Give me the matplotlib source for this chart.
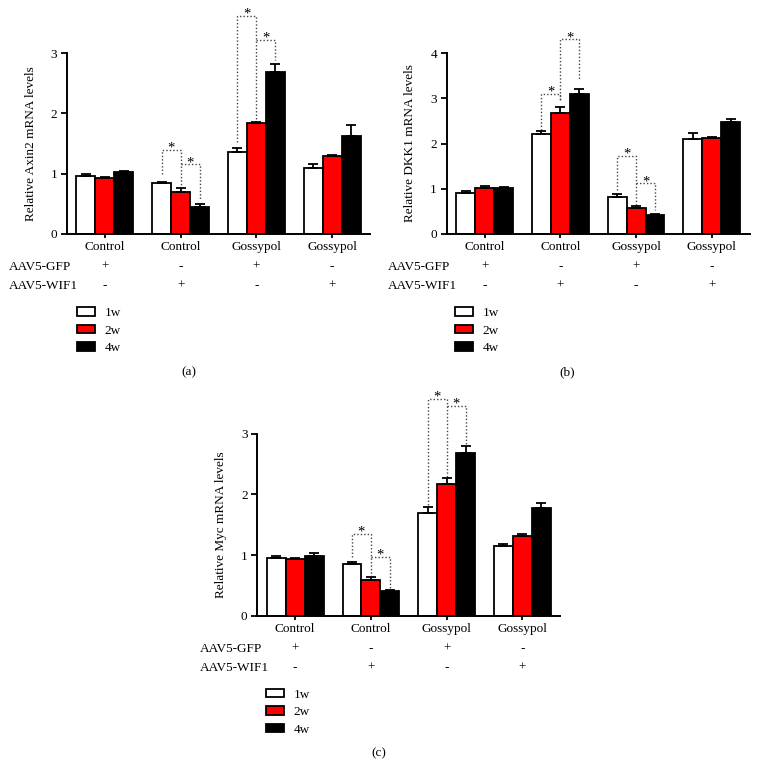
import numpy as np
import matplotlib.pyplot as plt
from matplotlib.transforms import blended_transform_factory

plt.rcParams['font.family'] = 'Liberation Serif'
plt.rcParams['font.size'] = 9.5

# group labels and treatment table
groups = ["Control", "Control", "Gossypol", "Gossypol"]
gfp = ["+", "-", "+", "-"]
wif1 = ["-", "+", "-", "+"]
weeks = ["1w", "2w", "4w"]
colors = ["white", "#ff0000", "black"]

# Axin2 (a)
axin2_mean = [[0.96, 0.845, 1.365, 1.10],
              [0.93, 0.69, 1.84, 1.29],
              [1.03, 0.45, 2.68, 1.62]]
axin2_err = [[0.04, 0.01, 0.06, 0.066],
             [0.02, 0.065, 0.015, 0.02],
             [0.02, 0.04, 0.14, 0.19]]
# significance brackets: (group, bar from, bar to, left foot, top, right foot)
axin2_sig = [(1, 0, 1, 1.00, 1.40, 0.76),
             (1, 1, 2, 1.155, 1.155, 0.56),
             (2, 0, 1, 1.53, 3.62, 1.90),
             (2, 1, 2, 3.215, 3.215, 2.88)]

# DKK1 (b)
dkk1_mean = [[0.91, 2.21, 0.81, 2.11],
             [1.01, 2.67, 0.58, 2.12],
             [1.02, 3.09, 0.41, 2.48]]
dkk1_err = [[0.05, 0.07, 0.07, 0.13],
            [0.04, 0.14, 0.04, 0.02],
            [0.02, 0.11, 0.03, 0.07]]
dkk1_sig = [(1, 0, 1, 2.30, 3.09, 2.96),
            (1, 1, 2, 2.96, 4.30, 3.40),
            (2, 0, 1, 0.97, 1.73, 0.64),
            (2, 1, 2, 1.12, 1.12, 0.53)]

# Myc (c)
myc_mean = [[0.945, 0.85, 1.70, 1.15],
            [0.93, 0.59, 2.17, 1.31],
            [0.98, 0.40, 2.68, 1.77]]
myc_err = [[0.045, 0.03, 0.10, 0.04],
           [0.015, 0.04, 0.10, 0.03],
           [0.05, 0.02, 0.12, 0.09]]
myc_sig = [(1, 0, 1, 0.97, 1.35, 0.65),
           (1, 1, 2, 0.97, 0.97, 0.45),
           (2, 0, 1, 1.82, 3.58, 2.28),
           (2, 1, 2, 3.46, 3.46, 2.81)]

W = 758.0
H = 780.0
fig = plt.figure(figsize=(W / 100, H / 100), dpi=100)


def panel(rect, mean, err, sig, ymax, ylabel, tag, tagx, rowx, legx, y0px):
    ax = fig.add_axes(rect)
    for j in range(3):
        x = np.arange(4) * 4 + j
        ax.bar(x, mean[j], width=1.0, color=colors[j], edgecolor='black',
               linewidth=1.3, label=weeks[j], zorder=2)
        ax.errorbar(x, mean[j], yerr=[np.zeros(4), err[j]], fmt='none',
                    ecolor='black', elinewidth=1.3, capsize=3.3, capthick=1.3, zorder=3)
    for g, a, b, yl, yt, yr in sig:
        xa = g * 4 + a
        xb = g * 4 + b
        ax.plot([xa, xa, xb, xb], [yl, yt, yt, yr], ls=(0, (1, 1.5)), color='#444444',
                lw=1.0, clip_on=False, zorder=1)
        ax.annotate("*", ((xa + xb) / 2.0, yt), xytext=(0, -3.5), textcoords='offset points',
                    ha='center', va='bottom', fontsize=10.5, annotation_clip=False)
    ax.set_xlim(-1, 15)
    ax.set_ylim(0, ymax)
    ax.set_yticks(range(ymax + 1))
    ax.set_xticks(np.arange(4) * 4 + 1)
    ax.set_xticklabels(groups)
    ax.spines['top'].set_visible(False)
    ax.spines['right'].set_visible(False)
    ax.spines['left'].set_linewidth(1.4)
    ax.spines['bottom'].set_linewidth(1.4)
    ax.tick_params(axis='y', direction='out', length=4, width=1.3, pad=3)
    ax.tick_params(axis='x', direction='out', length=3, width=1.3, pad=2)
    ax.set_ylabel(ylabel, labelpad=10)

    tr = blended_transform_factory(ax.transData, fig.transFigure)
    centers = np.arange(4) * 4 + 1
    fig.text(rowx / W, 1 - (y0px + 33) / H, "AAV5-GFP", ha='left', va='center')
    fig.text(rowx / W, 1 - (y0px + 52) / H, "AAV5-WIF1", ha='left', va='center')
    for i in range(4):
        ax.text(centers[i], 1 - (y0px + 33) / H, gfp[i], transform=tr, ha='center', va='center')
        ax.text(centers[i], 1 - (y0px + 52) / H, wif1[i], transform=tr, ha='center', va='center')

    ax.legend(loc='upper left', bbox_to_anchor=(legx / W, 1 - (y0px + 73) / H),
              bbox_transform=fig.transFigure, frameon=False, borderpad=0,
              borderaxespad=0, handlelength=1.35, handleheight=0.6,
              handletextpad=0.75, labelspacing=0.42)
    fig.text(tagx / W, 1 - (y0px + 138) / H, tag, ha='center', va='center')
    return ax


axA = panel([67 / W, 1 - 234 / H, 303 / W, 181 / H], axin2_mean, axin2_err, axin2_sig, 3,
            "Relative Axin2 mRNA levels", "(a)", 189, 9, 77, 234)
axB = panel([446.7 / W, 1 - 234 / H, 303 / W, 181 / H], dkk1_mean, dkk1_err, dkk1_sig, 4,
            "Relative DKK1 mRNA levels", "(b)", 567, 388, 455, 234)
axC = panel([257.3 / W, 1 - 615.7 / H, 303 / W, 182 / H], myc_mean, myc_err, myc_sig, 3,
            "Relative Myc mRNA levels", "(c)", 379, 200, 266, 615.7)

fig.savefig("out.png", dpi=100)
